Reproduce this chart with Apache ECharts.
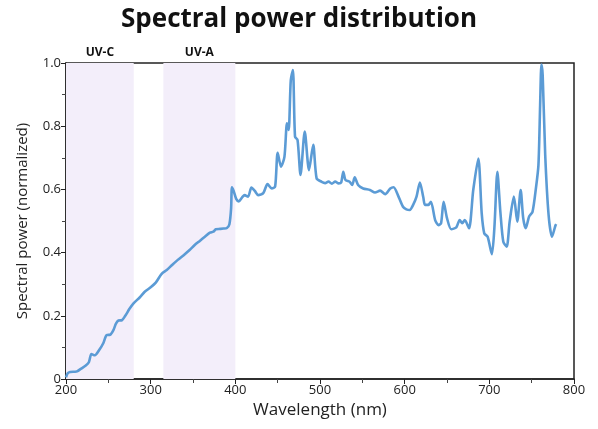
<!DOCTYPE html>
<html><head><meta charset="utf-8">
<script src="https://cdn.jsdelivr.net/npm/echarts@6/dist/echarts.min.js"></script>
<style>html,body{margin:0;padding:0;background:#fff}#c{width:598px;height:429px}</style>
</head><body><div id="c"></div>
<script>
const wavelengths = [200,202,205,210,213,218,223,227,230,234,240,244,248,252,256,259,262,266,270,275,280,287,293,300,306,313,319,325,332,339,346,352,358,364,370,374,377,382,386,390,393,395,396,398,401,404,408,411,415,419,423,427,433,438,443,447,450,454,458,461,463,465.5,468,470.5,473.5,477,482,487,492,496,502,506,510,514,518,522,525,527.5,530,535,538,541,545,551,559,565,571,577,583,587,592,598,602,606,610,614,618,622,624,628,631,636,640,643,646,650,655,661,665,668,671,676,681,687,691,694,698,703,706,709.5,713,716.5,720.5,724,729,733,737,740,743,747,751,755,758,760,761.5,763,766,770,774,778,779];
const power = [0.005,0.018,0.022,0.023,0.024,0.033,0.042,0.053,0.079,0.075,0.095,0.113,0.139,0.140,0.155,0.175,0.185,0.186,0.200,0.222,0.240,0.258,0.276,0.290,0.305,0.333,0.345,0.360,0.377,0.392,0.408,0.424,0.437,0.450,0.463,0.466,0.474,0.475,0.476,0.478,0.490,0.540,0.607,0.595,0.570,0.562,0.575,0.582,0.577,0.606,0.595,0.582,0.588,0.617,0.603,0.609,0.716,0.672,0.703,0.809,0.788,0.946,0.978,0.767,0.756,0.646,0.783,0.661,0.741,0.635,0.624,0.620,0.625,0.618,0.625,0.619,0.622,0.656,0.630,0.624,0.614,0.638,0.614,0.603,0.598,0.590,0.596,0.585,0.603,0.607,0.582,0.545,0.537,0.535,0.551,0.577,0.622,0.575,0.551,0.551,0.561,0.503,0.487,0.493,0.561,0.509,0.474,0.480,0.503,0.493,0.503,0.477,0.598,0.698,0.524,0.461,0.450,0.395,0.480,0.656,0.530,0.434,0.419,0.498,0.577,0.498,0.598,0.509,0.477,0.514,0.529,0.603,0.677,0.867,0.995,0.962,0.709,0.519,0.450,0.485,0.490];
const bands = [
  {name: 'UV-C', from: 200, to: 280},
  {name: 'UV-A', from: 315, to: 400}
];
const title = 'Spectral power distribution';
const xName = 'Wavelength (nm)';
const yName = 'Spectral power (normalized)';

const FONT = '"Open Sans", sans-serif';
const chart = echarts.init(document.getElementById('c'), null, {renderer: 'canvas'});
chart.setOption({
  animation: false,
  backgroundColor: '#fff',
  title: {
    text: title, left: 'center', top: 2,
    textStyle: {fontFamily: FONT, fontWeight: 'bold', fontSize: 26, color: '#111'}
  },
  grid: {left: 66, right: 24, top: 63, bottom: 50, show: true, borderColor: '#222', borderWidth: 1.5, backgroundColor: 'transparent'},
  xAxis: {
    type: 'value', min: 200, max: 800, interval: 100,
    name: xName, nameLocation: 'middle', nameGap: 23,
    nameTextStyle: {fontFamily: FONT, fontSize: 17, color: '#222'},
    axisLine: {lineStyle: {color: '#222', width: 1.5}},
    axisTick: {show: true, inside: false, length: 5, lineStyle: {color: '#222'}},
    minorTick: {show: true, splitNumber: 2, length: 4, lineStyle: {color: '#444'}},
    axisLabel: {fontFamily: FONT, fontSize: 13, color: '#222', margin: 5},
    splitLine: {show: false}
  },
  yAxis: {
    type: 'value', min: 0, max: 1, interval: 0.2,
    name: yName, nameLocation: 'middle', nameGap: 36, nameRotate: 90,
    nameTextStyle: {fontFamily: FONT, fontSize: 15, color: '#222'},
    axisLine: {show: true, lineStyle: {color: '#222', width: 1.5}},
    axisTick: {show: true, inside: false, length: 5, lineStyle: {color: '#222'}},
    minorTick: {show: true, splitNumber: 2, length: 4, lineStyle: {color: '#444'}},
    axisLabel: {fontFamily: FONT, fontSize: 13, color: '#222', margin: 5,
      formatter: v => v === 0 ? '0' : v.toFixed(1)},
    splitLine: {show: false}
  },
  series: [{
    type: 'line',
    data: wavelengths.map((w, i) => [w, power[i]]),
    showSymbol: false,
    smooth: 0.25,
    lineStyle: {color: '#5b9bd5', width: 2.6},
    z: 3,
    markArea: {
      silent: true,
      itemStyle: {color: '#f3eefa'},
      label: {show: true, position: 'top', distance: 4, fontFamily: FONT, fontWeight: 'bold', fontSize: 12, color: '#111'},
      data: bands.map(b => [{name: b.name, xAxis: b.from}, {xAxis: b.to}])
    }
  }]
});
</script></body></html>
